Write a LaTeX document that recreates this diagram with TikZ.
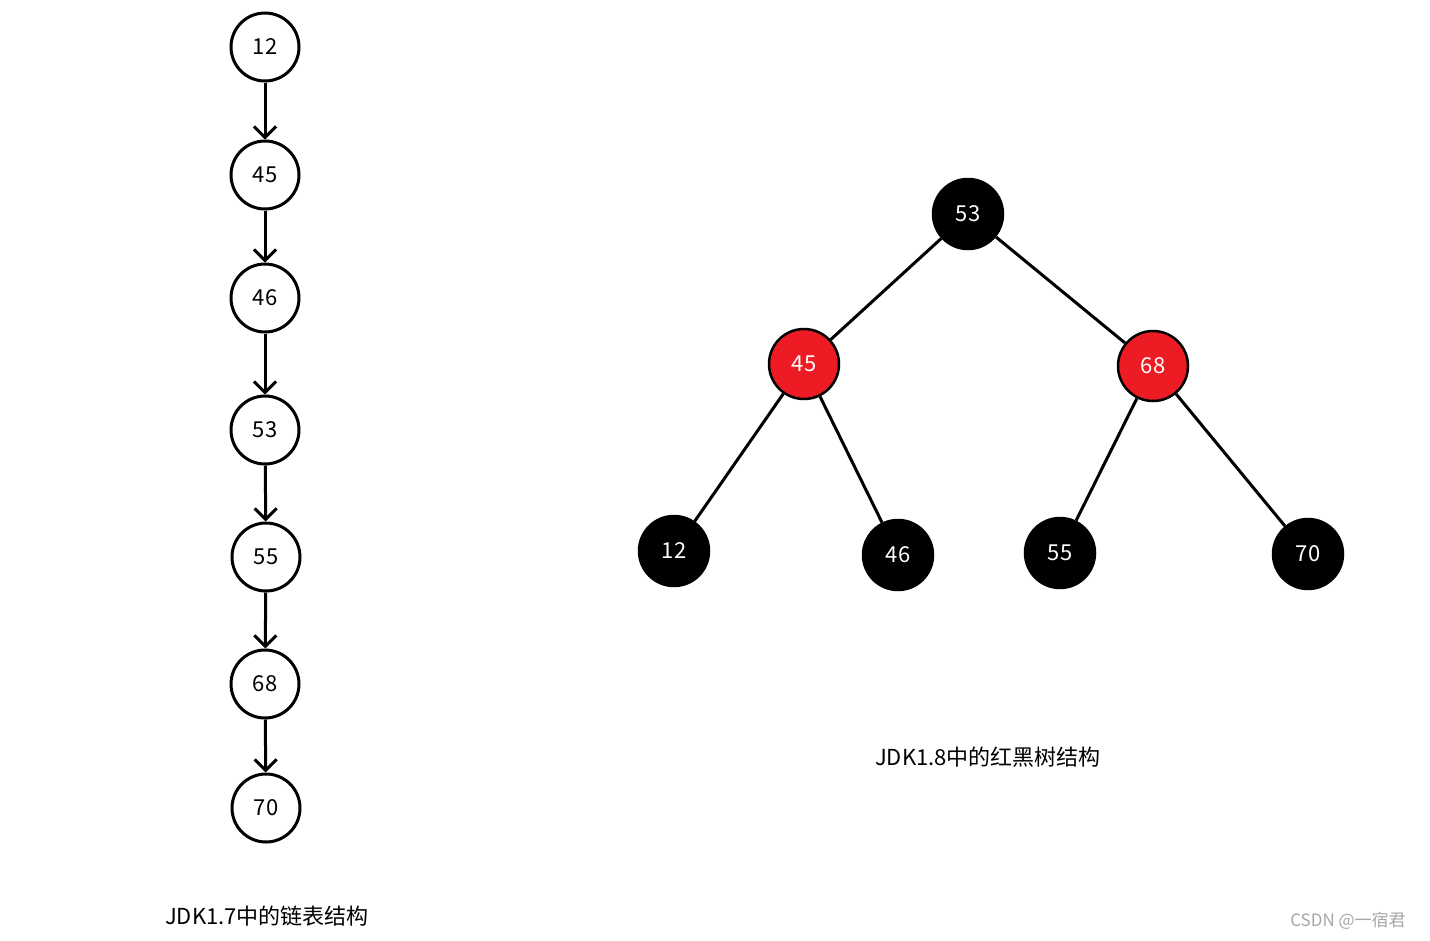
\documentclass[tikz,border=0pt]{standalone}
\usepackage{fontspec}
\setmainfont{Noto Sans CJK SC}
\usetikzlibrary{arrows.meta}
\definecolor{rbred}{HTML}{ED1C24}
\begin{document}
\begin{tikzpicture}[x=1pt,y=-1pt,
  ln/.style={circle,draw=black,line width=3pt,minimum size=68pt,inner sep=0pt,font=\fontsize{22}{24}\selectfont},
  bn/.style={circle,fill=black,draw=black,line width=2.5pt,minimum size=70pt,inner sep=0pt,text=white,font=\fontsize{22}{24}\selectfont},
  rn/.style={bn,fill=rbred},
  arr/.style={line width=3pt,-{Straight Barb[length=11pt,width=22pt,line width=3pt]}},
  edge/.style={line width=3pt},
  lbl/.style={font=\fontsize{22}{26}\selectfont}]
\useasboundingbox (0,0) rectangle (1430,940);
\node[ln] (l12) at (265,47) {12};
\node[ln] (l45) at (265,175) {45};
\node[ln] (l46) at (265,298) {46};
\node[ln] (l53) at (265,430) {53};
\node[ln] (l55) at (266,557) {55};
\node[ln] (l68) at (265,684) {68};
\node[ln] (l70) at (266,808) {70};
\foreach \a/\b in {l12/l45,l45/l46,l46/l53,l53/l55,l55/l68,l68/l70}
  \draw[arr] (\a) -- (\b);
\node[bn] (t53) at (968,214) {53};
\node[rn] (t45) at (804,364) {45};
\node[rn] (t68) at (1153,366) {68};
\node[bn] (t12) at (674,551) {12};
\node[bn] (t46) at (898,555) {46};
\node[bn] (t55) at (1060,553) {55};
\node[bn] (t70) at (1308,554) {70};
\foreach \a/\b in {t53/t45,t53/t68,t45/t12,t45/t46,t68/t55,t68/t70}
  \draw[edge] (\a) -- (\b);
\node[lbl] (cap2) at (988,757) {JDK1.8中的红黑树结构};
\node[lbl] (cap1) at (267,916) {JDK1.7中的链表结构};
\node[font=\fontsize{17}{20}\selectfont,text=black!35] (wm) at (1348,921) {CSDN @一宿君};
\end{tikzpicture}
\end{document}
